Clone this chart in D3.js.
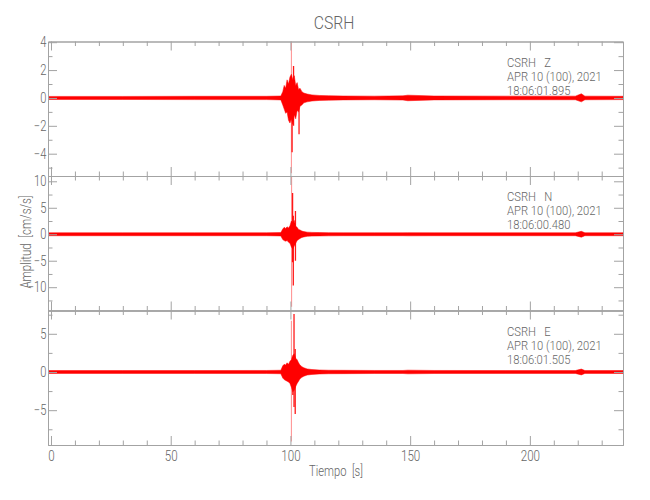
<!DOCTYPE html>
<html>
<head>
<meta charset="utf-8">
<script src="https://cdn.jsdelivr.net/npm/d3@7"></script>
<style>
  html, body { margin: 0; padding: 0; background: #fff; }
  svg text { font-family: Roboto, "Liberation Sans", sans-serif; font-weight: 300; fill: #666; white-space: pre; }
</style>
</head>
<body>
<svg id="chart" width="650" height="500"></svg>
<script>
// ---------------- data ----------------
const stationName = "CSRH";
const components = ["Z", "N", "E"];
const dateLabel = "APR 10 (100), 2021";
const startTimes = ["18:06:01.895", "18:06:00.480", "18:06:01.505"];
const xLabel = "Tiempo  [s]";
const yLabel = "Amplitud  [cm/s/s]";

const timeRange = [-1.25, 238.9];
const xTickValues = [0, 50, 100, 150, 200];

const yRangeZ = [-5.6, 4.05];
const yRangeN = [-14.4, 11.0];
const yRangeE = [-9.56, 8.05];
const yTicksZ = [-4, -2, 0, 2, 4];
const yTicksN = [-10, -5, 0, 5, 10];
const yTicksE = [-5, 0, 5];

// envelope of the trace (max / min per time bin)
const envT = [-1.2, 30, 60, 90, 96, 96.8, 97.4, 98.0, 98.6, 99.2, 99.8, 100.4, 101.0, 101.6, 102.2, 102.8, 103.4, 104.0, 104.8, 105.6, 107, 109, 112, 116, 122, 135, 147, 149, 160, 190, 219, 221.5, 223, 238.9];

const envHiZ = [0.11, 0.11, 0.12, 0.12, 0.14, 0.45, 0.9, 0.7, 1.3, 1.0, 1.5, 1.7, 1.3, 1.6, 0.9, 1.1, 0.6, 0.7, 0.45, 0.35, 0.28, 0.22, 0.18, 0.16, 0.14, 0.13, 0.15, 0.2, 0.14, 0.13, 0.13, 0.3, 0.13, 0.12];
const envLoZ = [-0.11, -0.11, -0.12, -0.12, -0.14, -0.5, -0.8, -1.1, -1.0, -1.6, -1.8, -1.5, -1.9, -1.2, -1.5, -0.9, -1.0, -0.6, -0.5, -0.35, -0.28, -0.22, -0.18, -0.16, -0.14, -0.13, -0.15, -0.2, -0.14, -0.13, -0.13, -0.28, -0.13, -0.12];

const envHiN = [0.28, 0.28, 0.28, 0.28, 0.32, 1.0, 1.3, 1.1, 1.4, 1.2, 1.6, 2.5, 2.2, 2.6, 1.5, 1.3, 0.9, 0.8, 0.6, 0.5, 0.4, 0.35, 0.32, 0.3, 0.28, 0.28, 0.28, 0.3, 0.28, 0.28, 0.28, 0.55, 0.28, 0.28];
const envLoN = [-0.28, -0.28, -0.28, -0.28, -0.32, -1.0, -1.2, -1.3, -1.2, -1.5, -1.7, -2.4, -2.8, -2.2, -1.7, -1.2, -1.0, -0.8, -0.6, -0.5, -0.4, -0.35, -0.32, -0.3, -0.28, -0.28, -0.28, -0.3, -0.28, -0.28, -0.28, -0.55, -0.28, -0.28];

const envHiE = [0.19, 0.19, 0.19, 0.2, 0.23, 0.8, 1.0, 0.9, 1.2, 1.0, 1.4, 1.6, 2.2, 2.4, 1.8, 1.6, 1.2, 0.9, 0.7, 0.55, 0.4, 0.32, 0.26, 0.23, 0.22, 0.2, 0.2, 0.24, 0.2, 0.19, 0.19, 0.38, 0.19, 0.19];
const envLoE = [-0.19, -0.19, -0.19, -0.2, -0.23, -0.8, -1.0, -1.1, -1.2, -1.3, -1.5, -2.0, -2.6, -2.4, -1.9, -1.5, -1.2, -0.9, -0.7, -0.55, -0.4, -0.32, -0.26, -0.23, -0.22, -0.2, -0.2, -0.24, -0.2, -0.19, -0.19, -0.38, -0.19, -0.19];

// individual large swings (first one = main transient)
const spikeTZ = [100.4, 100.7, 101.3, 103.6];
const spikeHiZ = [4.2, 1.0, 2.3, 0.5];
const spikeLoZ = [-5.4, -3.9, -2.0, -2.6];

const spikeTN = [100.5, 100.9, 101.2, 102.1];
const spikeHiN = [10.9, 7.8, 3.5, 4.4];
const spikeLoN = [-13.7, -5.3, -9.7, -5.0];

const spikeTE = [100.4, 101.5, 101.0, 102.0];
const spikeHiE = [6.7, 7.6, 2.0, 3.0];
const spikeLoE = [-9.1, -4.6, -3.0, -5.5];

// ---------------- drawing ----------------
const svg = d3.select("#chart");
const left = 48, right = 623, top0 = 41.5, bottom = 445;
const panelH = (bottom - top0) / 3;
const axisColor = "#a3a3a3";
const traceColor = "#ff0000";
const narrow = 0.8;

const x = d3.scaleLinear().domain(timeRange).range([left, right]);

const panels = [
  { comp: components[0], start: startTimes[0], yr: yRangeZ, ticks: yTicksZ, minor: 1, hi: envHiZ, lo: envLoZ, sT: spikeTZ, sHi: spikeHiZ, sLo: spikeLoZ },
  { comp: components[1], start: startTimes[1], yr: yRangeN, ticks: yTicksN, minor: 2.5, hi: envHiN, lo: envLoN, sT: spikeTN, sHi: spikeHiN, sLo: spikeLoN },
  { comp: components[2], start: startTimes[2], yr: yRangeE, ticks: yTicksE, minor: 2.5, hi: envHiE, lo: envLoE, sT: spikeTE, sHi: spikeHiE, sLo: spikeLoE }
];

const defs = svg.append("defs");
const xMinor = d3.range(0, timeRange[1], 10).filter(v => v % 50 !== 0);

function styleAxis(g) {
  g.selectAll("path.domain").attr("stroke", axisColor).attr("stroke-width", 1);
  g.selectAll(".tick line").attr("stroke", axisColor).attr("stroke-width", 1);
  g.selectAll(".tick text").style("fill", "#666").attr("font-family", null)
    .attr("transform", `scale(${narrow},1)`);
}

function label(x0, y0, str, size, anchor, sx, rot) {
  return svg.append("text")
    .attr("transform", `translate(${x0},${y0})${rot ? " rotate(" + rot + ")" : ""} scale(${sx},1)`)
    .attr("text-anchor", anchor).attr("font-size", size).text(str);
}

panels.forEach((p, i) => {
  const top = top0 + i * panelH;
  const bot = top + panelH;
  const y = d3.scaleLinear().domain(p.yr).range([bot, top]);

  defs.append("clipPath").attr("id", "clip" + i)
    .append("rect").attr("x", left).attr("y", top).attr("width", right - left).attr("height", panelH);

  const g = svg.append("g").attr("clip-path", `url(#clip${i})`);

  const env = envT.map((t, k) => ({ t, hi: p.hi[k], lo: p.lo[k] }));
  const area = d3.area().x(d => x(d.t)).y0(d => y(d.lo)).y1(d => y(d.hi));
  g.append("path").datum(env).attr("d", area)
    .attr("fill", traceColor).attr("stroke", traceColor).attr("stroke-width", 0.5).attr("stroke-linejoin", "round");

  const spikes = p.sT.map((t, k) => ({ t, hi: p.sHi[k], lo: p.sLo[k], k }));
  g.selectAll("line.spike").data(spikes).enter().append("line")
    .attr("class", "spike")
    .attr("x1", d => x(d.t)).attr("x2", d => x(d.t))
    .attr("y1", d => y(d.hi)).attr("y2", d => y(d.lo))
    .attr("stroke", traceColor)
    .attr("stroke-width", d => d.k === 0 ? 1 : 1.3)
    .attr("stroke-opacity", d => d.k === 0 ? 0.45 : 0.9);

  const yMinorVals = d3.range(Math.ceil(p.yr[0] / p.minor) * p.minor, p.yr[1] + 1e-9, p.minor)
    .filter(v => !p.ticks.some(t => Math.abs(t - v) < 1e-9));

  const gl = svg.append("g").attr("transform", `translate(${left},0)`)
    .call(d3.axisLeft(y).tickValues(p.ticks).tickSizeInner(-9).tickSizeOuter(0).tickPadding(2).tickFormat(d3.format("d")));
  gl.attr("font-size", 14);
  styleAxis(gl);
  const glm = svg.append("g").attr("transform", `translate(${left},0)`)
    .call(d3.axisLeft(y).tickValues(yMinorVals).tickSizeInner(-4.5).tickSizeOuter(0).tickFormat(""));
  styleAxis(glm);

  const gr = svg.append("g").attr("transform", `translate(${right},0)`)
    .call(d3.axisRight(y).tickValues(p.ticks).tickSizeInner(-9).tickSizeOuter(0).tickFormat(""));
  styleAxis(gr);
  const grm = svg.append("g").attr("transform", `translate(${right},0)`)
    .call(d3.axisRight(y).tickValues(yMinorVals).tickSizeInner(-4.5).tickSizeOuter(0).tickFormat(""));
  styleAxis(grm);

  const gt = svg.append("g").attr("transform", `translate(0,${top})`)
    .call(d3.axisTop(x).tickValues(xTickValues).tickSizeInner(-9).tickSizeOuter(0).tickFormat(""));
  styleAxis(gt);
  const gtm = svg.append("g").attr("transform", `translate(0,${top})`)
    .call(d3.axisTop(x).tickValues(xMinor).tickSizeInner(-4.5).tickSizeOuter(0).tickFormat(""));
  styleAxis(gtm);

  const gb = svg.append("g").attr("transform", `translate(0,${bot})`)
    .call(d3.axisBottom(x).tickValues(xTickValues).tickSizeInner(-9).tickSizeOuter(0).tickPadding(6)
      .tickFormat(i === panels.length - 1 ? d3.format("d") : ""));
  gb.attr("font-size", 14.5);
  styleAxis(gb);
  const gbm = svg.append("g").attr("transform", `translate(0,${bot})`)
    .call(d3.axisBottom(x).tickValues(xMinor).tickSizeInner(-4.5).tickSizeOuter(0).tickFormat(""));
  styleAxis(gbm);

  const lines = [stationName + "   " + p.comp, dateLabel, p.start];
  lines.forEach((s, k) => label(507, top + 25 + k * 14.2, s, 12.2, "start", 0.92));
});

label(334, 29, stationName, 17.5, "middle", 0.9);
label(336, 476, xLabel, 14, "middle", 0.8);
label(31, 242, yLabel, 14, "middle", 0.82, -90);
</script>
</body>
</html>
